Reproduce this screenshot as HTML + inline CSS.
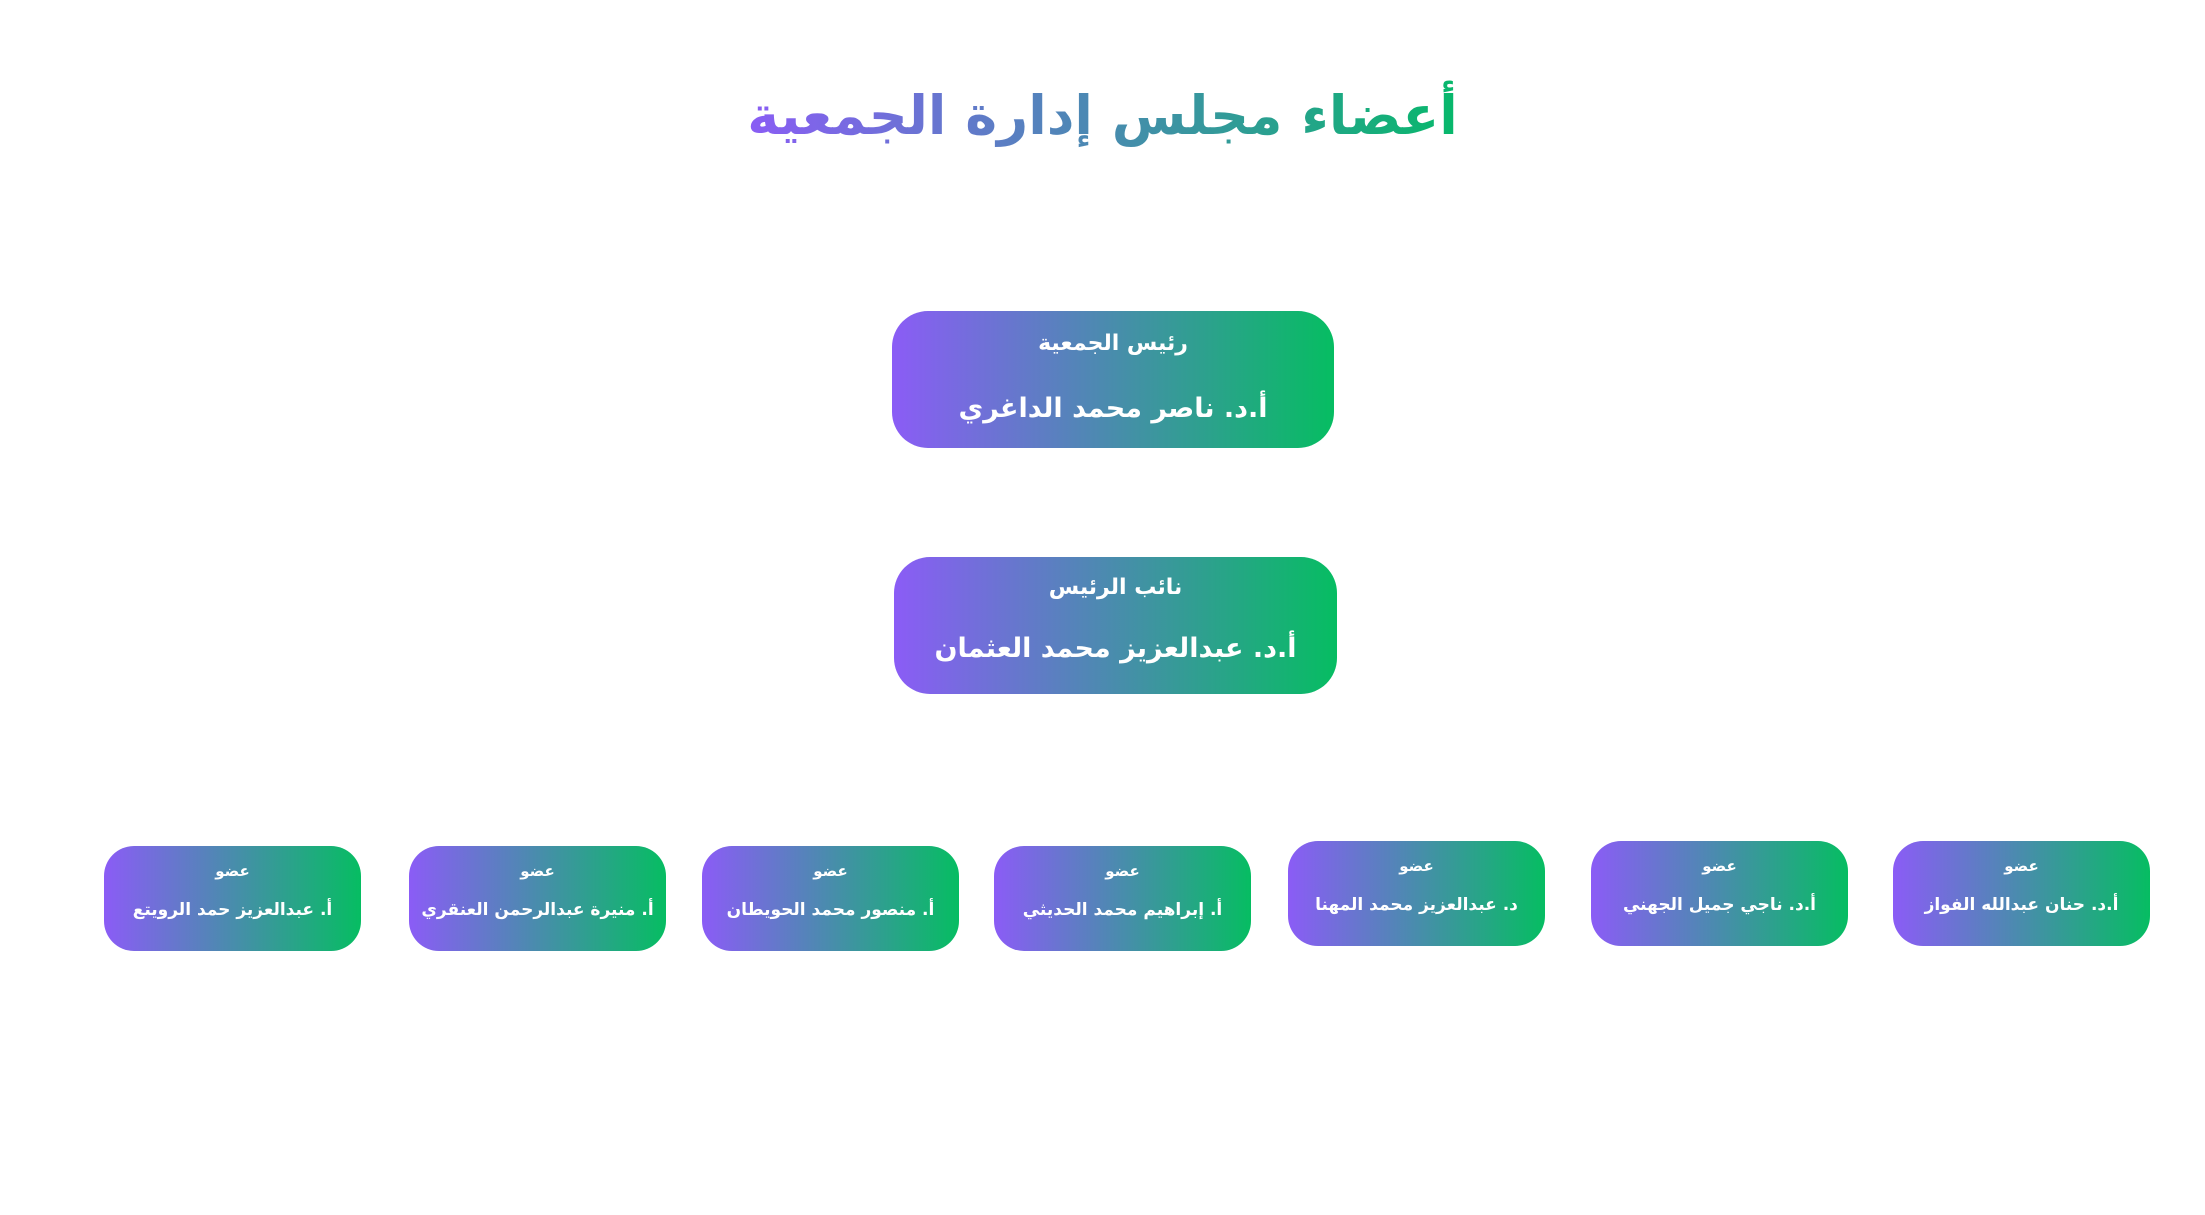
<!DOCTYPE html>
<html><head><meta charset="utf-8"><style>
html,body{margin:0;padding:0;width:2205px;height:1215px;background:#fff;overflow:hidden}
body{position:relative;font-family:"DejaVu Sans","Noto Sans CJK SC",sans-serif;direction:rtl}
.tw{position:absolute;left:0;width:2205px;top:76px;text-align:center}
.t{display:inline-block;font-size:54px;font-weight:bold;line-height:80px;padding:0 6px;
background:linear-gradient(90deg,#8b5cf6,#06b96a);-webkit-background-clip:text;background-clip:text;color:transparent;white-space:nowrap}
.b{position:absolute;border-radius:36px;background:linear-gradient(90deg,#8b5cf6,#06bd62);color:#fff;text-align:center;white-space:nowrap}
.b .s,.b .n{position:absolute;left:0;right:0;font-weight:bold}
.big .s{font-size:22px}
.big .n{font-size:27px}
.sm{width:257px;height:105px;border-radius:30px}
.sm .s{font-size:15px;top:16px}
.sm .n{font-size:17px;top:54px}
</style></head><body>
<div class="tw"><span class="t">أعضاء مجلس إدارة الجمعية</span></div>

<div class="b big" style="left:892px;top:311px;width:442px;height:137px">
<div class="s" style="top:20px">رئيس الجمعية</div>
<div class="n" style="top:82px">أ.د. ناصر محمد الداغري</div></div>

<div class="b big" style="left:894px;top:557px;width:443px;height:137px">
<div class="s" style="top:18px">نائب الرئيس</div>
<div class="n" style="top:76px">أ.د. عبدالعزيز محمد العثمان</div></div>

<div class="b sm" style="left:104px;top:846px"><div class="s">عضو</div><div class="n">أ. عبدالعزيز حمد الرويتع</div></div>
<div class="b sm" style="left:409px;top:846px"><div class="s">عضو</div><div class="n">أ. منيرة عبدالرحمن العنقري</div></div>
<div class="b sm" style="left:702px;top:846px"><div class="s">عضو</div><div class="n">أ. منصور محمد الحويطان</div></div>
<div class="b sm" style="left:994px;top:846px"><div class="s">عضو</div><div class="n">أ. إبراهيم محمد الحديثي</div></div>
<div class="b sm" style="left:1288px;top:841px"><div class="s">عضو</div><div class="n">د. عبدالعزيز محمد المهنا</div></div>
<div class="b sm" style="left:1591px;top:841px"><div class="s">عضو</div><div class="n">أ.د. ناجي جميل الجهني</div></div>
<div class="b sm" style="left:1893px;top:841px"><div class="s">عضو</div><div class="n">أ.د. حنان عبدالله الفواز</div></div>
</body></html>
